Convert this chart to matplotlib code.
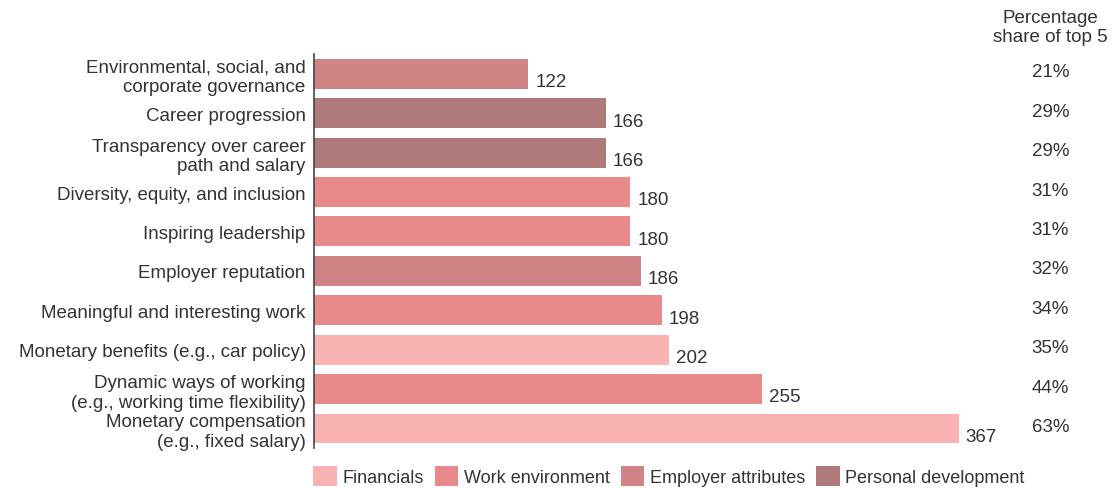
import matplotlib.pyplot as plt
from matplotlib.patches import Patch

plt.rcParams['font.family'] = ['Liberation Sans', 'DejaVu Sans']

# Datos
etiquetas = [
    "Environmental, social, and\ncorporate governance",
    "Career progression",
    "Transparency over career\npath and salary",
    "Diversity, equity, and inclusion",
    "Inspiring leadership",
    "Employer reputation",
    "Meaningful and interesting work",
    "Monetary benefits (e.g., car policy)",
    "Dynamic ways of working\n(e.g., working time flexibility)",
    "Monetary compensation\n(e.g., fixed salary)",
]
valores = [122, 166, 166, 180, 180, 186, 198, 202, 255, 367]
porcentajes = ["21%", "29%", "29%", "31%", "31%", "32%", "34%", "35%", "44%", "63%"]
grupos = ["Employer attributes", "Personal development", "Personal development",
          "Work environment", "Work environment", "Employer attributes",
          "Work environment", "Financials", "Work environment", "Financials"]

colores = {
    "Financials": "#F9B3B3",
    "Work environment": "#E8898A",
    "Employer attributes": "#D18486",
    "Personal development": "#B07A7A",
}
texto = "#333333"
fs = 13.5

fig = plt.figure(figsize=(11.19, 4.89), dpi=100)
ax = fig.add_axes([0.2806, 0.0814, 0.628, 0.806])

pos = list(range(len(valores)))
ax.barh(pos, valores, height=0.76, color=[colores[g] for g in grupos],
        edgecolor='none')

for y, v, p in zip(pos, valores, porcentajes):
    ax.text(v + 4, y + 0.2, str(v), va='center', ha='left', fontsize=fs, color=texto)
    ax.text(1.048, y - 0.05, p, transform=ax.get_yaxis_transform(), va='center',
            ha='center', fontsize=fs, color=texto)

ax.text(1.048, -0.72, "Percentage\nshare of top 5", transform=ax.get_yaxis_transform(),
        va='bottom', ha='center', fontsize=fs, color=texto, linespacing=1.2)

ax.set_yticks(pos)
ax.set_yticklabels(etiquetas, fontsize=fs, color=texto, linespacing=1.2)
ax.tick_params(axis='y', length=0, pad=6)
ax.set_xticks([])
ax.set_xlim(0, 400)
ax.set_ylim(9.5, -0.5)

for lado in ['top', 'right', 'bottom']:
    ax.spines[lado].set_visible(False)
ax.spines['left'].set_color('#444444')
ax.spines['left'].set_linewidth(1.2)

# Leyenda
handles = [Patch(facecolor=colores[k], label=k) for k in colores]
fig.legend(handles=handles, loc='center left', bbox_to_anchor=(0.28, 1 - 477 / 489),
           ncol=4, frameon=False, fontsize=13, handlelength=1.3, handleheight=1.3,
           handletextpad=0.32, columnspacing=0.6, labelcolor=texto,
           borderpad=0, borderaxespad=0)

plt.savefig("out.png", dpi=100)
